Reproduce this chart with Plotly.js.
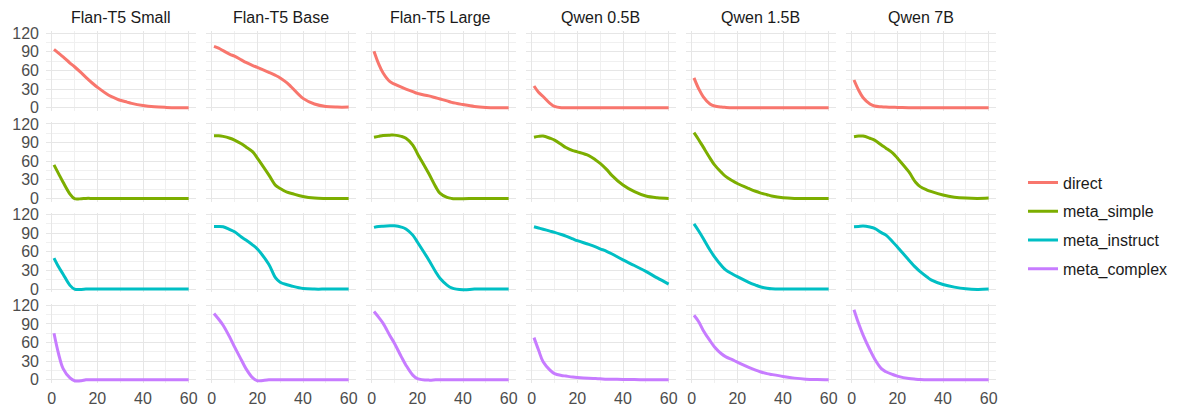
<!DOCTYPE html>
<html>
<head>
<meta charset="utf-8">
<script src="https://cdn.plot.ly/plotly-3.0.1.min.js"></script>
<style>html,body{margin:0;padding:0;background:#fff;}#chart{width:1183px;height:412px;}</style>
</head>
<body>
<div id="chart"></div>
<script>
// ---- data ----
const models = ['Flan-T5 Small', 'Flan-T5 Base', 'Flan-T5 Large', 'Qwen 0.5B', 'Qwen 1.5B', 'Qwen 7B'];
const methods = ['direct', 'meta_simple', 'meta_instruct', 'meta_complex'];
const xValues = [1, 3, 5, 8, 10, 13, 15, 18, 20, 25, 28, 30, 33, 35, 40, 45, 50, 55, 60];
const xTickStep = 20, xMinorStep = 10;
const yTickStep = 30, yMinorStep = 15;

// rows: direct, meta_simple, meta_instruct, meta_complex
const flanT5Small = [
  [94, 88, 82, 72, 66, 56, 49, 39, 33, 20, 15, 12, 9, 7, 3.5, 1.5, 0.5, 0, 0],
  [54, 40, 26, 7, -0.5, -0.5, 0, 0, 0, 0, 0, 0, 0, 0, 0, 0, 0, 0, 0],
  [50, 36, 24, 6, 0, -0.5, 0, 0, 0, 0, 0, 0, 0, 0, 0, 0, 0, 0, 0],
  [75, 42, 18, 3, -1.5, -1.5, 0, 0, 0, 0, 0, 0, 0, 0, 0, 0, 0, 0, 0]
];
const flanT5Base = [
  [99, 96, 92, 86, 83, 77, 73, 68, 65, 57, 52, 48, 40, 33, 15, 6, 2, 1, 1],
  [101, 101, 100, 97, 94, 88, 83, 75, 65, 38, 21, 16, 10, 8, 3, 0.5, 0, 0, 0],
  [101, 101, 100.5, 96, 92.5, 84, 79, 71, 64.5, 40, 18, 11, 7, 5, 1, 0, 0, 0, 0],
  [107, 98, 88, 68, 53, 32, 18, 3, -1.5, 0, 0, 0, 0, 0, 0, 0, 0, 0, 0]
];
const flanT5Large = [
  [91, 71, 56, 42, 38, 33, 30, 26, 23, 19, 16, 14, 11, 8.6, 5, 2, 0.5, 0, 0],
  [98.5, 100, 101.5, 102, 102, 100, 97, 86, 72.5, 40, 19, 8, 1.5, 0, -0.5, 0, 0, 0, 0],
  [99.5, 101, 101.5, 102, 102, 100, 97, 87, 76, 47, 28, 17, 6.5, 2, -1, 0, 0, 0, 0],
  [110, 101, 91, 71, 58.6, 37, 23.6, 7.5, 2, -0.5, 0, 0, 0, 0, 0, 0, 0, 0, 0]
];
const qwen05B = [
  [35, 25, 18, 7, 2, 0, 0, 0, 0, 0, 0, 0, 0, 0, 0, 0, 0, 0, 0],
  [98.5, 100, 100.5, 97, 94, 87, 82, 77, 75, 69, 62, 56.5, 46, 37.6, 21.5, 10.8, 3.8, 1, 0],
  [100.5, 98.5, 96.5, 93.5, 91.5, 88, 85.5, 81, 78, 72, 68, 65, 60.5, 57, 47, 38, 28.5, 18, 8],
  [68, 48, 29, 15.6, 10, 7, 6, 4.5, 3.8, 2.5, 2, 1.6, 1, 1, 0.5, 0.3, 0, 0, 0]
];
const qwen15B = [
  [48, 31, 18, 6, 2.7, 1, 0.5, 0, 0, 0, 0, 0, 0, 0, 0, 0, 0, 0, 0],
  [106, 95, 83, 65, 54, 42, 35, 28, 24, 16, 11.5, 9, 6, 4, 1, 0, 0, 0, 0],
  [105, 94, 82, 63, 52, 38, 30.6, 24, 20, 11, 6.5, 3.8, 1.5, 0.5, 0, 0, 0, 0, 0],
  [104, 94, 80, 63, 53, 42, 37, 32, 28.5, 20, 15.5, 13, 10, 8.6, 5.4, 2.7, 1, 0.3, 0]
];
const qwen7B = [
  [44.6, 28.5, 16, 6, 2.7, 1.5, 1, 0.6, 0.5, 0, 0, 0, 0, 0, 0, 0, 0, 0, 0],
  [99.5, 100.5, 100.5, 97, 94, 86, 81, 73, 65, 43, 26, 19, 13.5, 10.8, 5.4, 2, 0.5, 0, 0.5],
  [100.5, 101, 101.6, 100, 98, 91, 87, 76, 68, 47, 35, 28, 19.5, 14.5, 7.5, 3.2, 0.5, -0.5, 0],
  [113, 91, 72, 48, 34, 18, 13, 8.5, 6, 2, 1, 0.5, 0, 0, 0, 0, 0, 0, 0]
];
const modelData = [flanT5Small, flanT5Base, flanT5Large, qwen05B, qwen15B, qwen7B];

// ---- styles ----
const colors = ['#F8766D', '#7CAE00', '#00BFC4', '#C77CFF'];
const W = 1183, H = 412;
const FONT = 'Liberation Sans, Arial, Helvetica, sans-serif';
const colLeft0 = 46.0, colStep = 160, colWidth = 149.5;
const rowTop0 = 31.4, rowStep = 90.7, rowHeight = 79.4;

const traces = [];
const layout = {
  width: W, height: H,
  margin: {l: 0, r: 0, t: 0, b: 0},
  paper_bgcolor: '#ffffff', plot_bgcolor: '#ffffff',
  font: {family: FONT, size: 16, color: '#4D4D4D'},
  showlegend: true,
  legend: {
    x: (1063 - 40) / W, xanchor: 'left',
    y: 1 - 226 / H, yanchor: 'middle',
    font: {family: FONT, size: 16, color: '#1A1A1A'},
    tracegroupgap: 5, bgcolor: 'rgba(0,0,0,0)'
  },
  annotations: []
};

for (let r = 0; r < methods.length; r++) {
  for (let c = 0; c < models.length; c++) {
    const i = r * models.length + c + 1;
    const sfx = i === 1 ? '' : String(i);
    traces.push({
      x: xValues, y: modelData[c][r],
      xaxis: 'x' + sfx, yaxis: 'y' + sfx,
      type: 'scatter', mode: 'lines',
      name: methods[r], legendgroup: methods[r],
      showlegend: c === 0,
      line: {color: colors[r], width: 3, shape: 'spline', smoothing: 1},
      hoverinfo: 'skip'
    });
    const x0 = colLeft0 + colStep * c, x1 = x0 + colWidth;
    const top = rowTop0 + rowStep * r, bottom = top + rowHeight;
    layout['xaxis' + sfx] = {
      domain: [x0 / W, x1 / W], range: [-2.5, 63], anchor: 'y' + sfx,
      tickmode: 'linear', tick0: 0, dtick: xTickStep,
      showticklabels: r === methods.length - 1,
      showgrid: true, gridcolor: '#E6E6E6', gridwidth: 1,
      minor: {tickmode: 'linear', tick0: 0, dtick: xMinorStep, showgrid: true, gridcolor: '#F0F0F0', gridwidth: 1},
      zeroline: false, showline: false, ticks: '',
      ticklabelstandoff: 4,
      tickfont: {family: FONT, size: 16, color: '#4D4D4D'},
      fixedrange: true
    };
    layout['yaxis' + sfx] = {
      domain: [1 - bottom / H, 1 - top / H], range: [-5, 123], anchor: 'x' + sfx,
      tickmode: 'linear', tick0: 0, dtick: yTickStep,
      showticklabels: c === 0,
      showgrid: true, gridcolor: '#E6E6E6', gridwidth: 1,
      minor: {tickmode: 'linear', tick0: 0, dtick: yMinorStep, showgrid: true, gridcolor: '#F0F0F0', gridwidth: 1},
      zeroline: false, showline: false, ticks: '',
      ticklabelstandoff: 6,
      tickfont: {family: FONT, size: 16, color: '#4D4D4D'},
      fixedrange: true
    };
  }
}

for (let c = 0; c < models.length; c++) {
  const cx = colLeft0 + colStep * c + colWidth / 2;
  layout.annotations.push({
    text: models[c], xref: 'paper', yref: 'paper',
    x: cx / W, y: 1 - 18 / H, xanchor: 'center', yanchor: 'middle',
    showarrow: false, font: {family: FONT, size: 16, color: '#1A1A1A'}
  });
}

Plotly.newPlot('chart', traces, layout, {staticPlot: true, displayModeBar: false});
</script>
</body>
</html>
